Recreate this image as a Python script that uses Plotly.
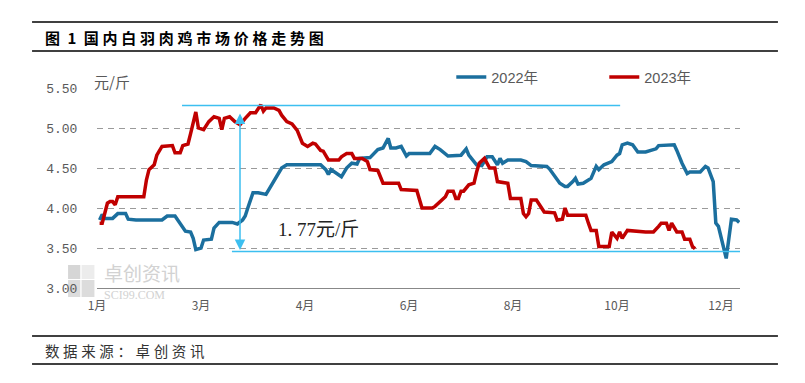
import plotly.graph_objects as go

# ---- data (index = trading-day position along the axis) ----
tick_pos = [0, 40, 80, 120, 160, 200, 240]
tick_text = ["1月", "3月", "4月", "6月", "8月", "10月", "12月"]

x_2022 = [1, 2, 3, 6, 8, 11, 12, 15, 25, 27, 30, 32, 34, 36, 37, 38, 40, 41, 44, 45, 47, 52, 54,
          56, 57, 58, 60, 62, 65, 67, 69, 71, 73, 86, 88, 89, 90, 92, 94, 96, 98, 100, 101, 105,
          108, 110, 112, 113, 115, 117, 119, 120, 128, 130, 132, 135, 138, 140, 142, 143, 146,
          148, 150, 152, 154, 155, 156, 158, 163, 165, 167, 173, 174, 177, 178, 180, 181, 183,
          184, 185, 187, 189, 190, 192, 193, 195, 198, 200, 201, 202, 204, 206, 208, 211, 215,
          216, 221, 222, 223, 225, 227, 228, 232, 234, 235, 237, 238, 239, 242, 243, 244, 246, 247]
y_2022 = [3.85, 3.92, 3.87, 3.87, 3.93, 3.93, 3.86, 3.85, 3.85, 3.90, 3.90, 3.81, 3.71, 3.70, 3.62,
          3.48, 3.50, 3.60, 3.61, 3.75, 3.82, 3.82, 3.80, 3.85, 3.90, 4.00, 4.19, 4.19, 4.17, 4.28,
          4.38, 4.50, 4.54, 4.54, 4.48, 4.42, 4.48, 4.44, 4.39, 4.50, 4.56, 4.55, 4.62, 4.63, 4.73,
          4.75, 4.87, 4.75, 4.75, 4.77, 4.65, 4.68, 4.68, 4.77, 4.73, 4.65, 4.65, 4.66, 4.74, 4.66,
          4.54, 4.53, 4.64, 4.64, 4.54, 4.62, 4.56, 4.60, 4.60, 4.58, 4.53, 4.52, 4.49, 4.35, 4.31,
          4.27, 4.27, 4.33, 4.37, 4.30, 4.31, 4.35, 4.37, 4.52, 4.48, 4.54, 4.58, 4.66, 4.68, 4.79,
          4.81, 4.79, 4.70, 4.70, 4.74, 4.78, 4.78, 4.79, 4.72, 4.56, 4.43, 4.45, 4.45, 4.52, 4.50,
          4.33, 3.81, 3.77, 3.37, 3.58, 3.86, 3.85, 3.82]

x_2023 = [1, 2, 4, 5, 6, 7, 8, 18, 19, 20, 22, 23, 25, 29, 30, 32, 33, 35, 36, 37, 38, 39, 41, 43,
          45, 47, 48, 49, 51, 53, 55, 57, 59, 61, 63, 64, 65, 68, 70, 71, 73, 75, 77, 79, 81, 83,
          84, 86, 87, 89, 93, 94, 96, 98, 99, 102, 104, 105, 108, 110, 116, 117, 123, 125, 129,
          130, 132, 134, 135, 137, 138, 139, 140, 141, 143, 145, 146, 147, 149, 150, 151, 153,
          154, 158, 159, 163, 164, 165, 166, 167, 169, 171, 172, 176, 177, 179, 180, 181, 188,
          189, 190, 192, 193, 197, 198, 200, 201, 202, 204, 211, 214, 216, 217, 219, 220, 221,
          223, 225, 226, 228, 229, 230]
y_2023 = [3.81, 3.81, 4.06, 4.08, 4.08, 4.04, 4.14, 4.14, 4.35, 4.48, 4.54, 4.66, 4.77, 4.78, 4.69,
          4.69, 4.78, 4.80, 4.93, 5.08, 5.20, 5.00, 4.98, 5.08, 5.14, 5.12, 4.98, 5.12, 5.14, 5.08,
          5.04, 5.12, 5.19, 5.19, 5.29, 5.21, 5.25, 5.25, 5.22, 5.16, 5.08, 5.05, 4.97, 4.81, 4.77,
          4.81, 4.80, 4.72, 4.71, 4.60, 4.60, 4.64, 4.68, 4.68, 4.62, 4.62, 4.58, 4.48, 4.47, 4.31,
          4.31, 4.23, 4.22, 4.00, 4.00, 4.02, 4.08, 4.14, 4.21, 4.21, 4.12, 4.12, 4.21, 4.21, 4.29,
          4.31, 4.45, 4.56, 4.62, 4.56, 4.50, 4.50, 4.33, 4.31, 4.12, 4.12, 3.93, 3.89, 3.93, 4.10,
          4.10, 4.00, 3.95, 3.94, 3.85, 3.86, 4.00, 3.91, 3.91, 3.81, 3.72, 3.72, 3.52, 3.52, 3.70,
          3.62, 3.70, 3.62, 3.72, 3.70, 3.70, 3.77, 3.81, 3.81, 3.72, 3.81, 3.70, 3.70, 3.61, 3.61,
          3.52, 3.49]

# annotation values
high_level = 5.28
low_level = 3.455
diff_label = "1. 77元/斤"

BLUE = "#1b6f9e"
RED = "#c00000"
CYAN = "#3cbff0"
GRAY = "#595959"

fig = go.Figure()
fig.add_trace(go.Scatter(x=x_2022, y=y_2022, mode="lines", name="2022年",
                         line=dict(color=BLUE, width=3.5)))
fig.add_trace(go.Scatter(x=x_2023, y=y_2023, mode="lines", name="2023年",
                         line=dict(color=RED, width=3.5)))

sp = "\u2005"
title_txt = "图\u2002" + "1\u2002" + sp.join("国内白羽肉鸡市场价格走势图")
footer_txt = sp.join("数据来源：卓创资讯")

shapes = [
    # title / footer rules
    dict(type="line", xref="paper", yref="paper", x0=-0.101, x1=1.059, y0=1.33, y1=1.33,
         line=dict(color="#000", width=1.5)),
    dict(type="line", xref="paper", yref="paper", x0=-0.101, x1=1.059, y0=1.185, y1=1.185,
         line=dict(color="#000", width=1.5)),
    dict(type="line", xref="paper", yref="paper", x0=-0.101, x1=1.059, y0=-0.24, y1=-0.24,
         line=dict(color="#000", width=1.5)),
    dict(type="line", xref="paper", yref="paper", x0=-0.101, x1=1.059, y0=-0.38, y1=-0.38,
         line=dict(color="#000", width=1.5)),
    # cyan reference lines
    dict(type="line", xref="x", yref="y", x0=32.7, x1=201.2, y0=high_level, y1=high_level,
         line=dict(color=CYAN, width=1.5)),
    dict(type="line", xref="x", yref="y", x0=51.9, x1=251.5, y0=low_level, y1=low_level,
         line=dict(color=CYAN, width=1.5)),
    # watermark logo squares
    dict(type="rect", xref="paper", yref="paper", x0=-0.045, x1=-0.026, y0=0.045, y1=0.115,
         fillcolor="#d6d6d6", line=dict(width=0), layer="below"),
    dict(type="rect", xref="paper", yref="paper", x0=-0.024, x1=-0.004, y0=0.045, y1=0.115,
         fillcolor="#ececec", line=dict(width=0), layer="below"),
    dict(type="rect", xref="paper", yref="paper", x0=-0.045, x1=-0.026, y0=-0.045, y1=0.04,
         fillcolor="#dcdcdc", line=dict(width=0), layer="below"),
    dict(type="rect", xref="paper", yref="paper", x0=-0.024, x1=-0.004, y0=-0.045, y1=0.04,
         fillcolor="#dcdcdc", line=dict(width=0), layer="below"),
]

annotations = [
    dict(text="<b>" + title_txt + "</b>", xref="paper", yref="paper", x=-0.084, y=1.2525,
         xanchor="left", yanchor="middle", showarrow=False,
         font=dict(family="Noto Sans CJK SC", size=15, color="#000")),
    dict(text=footer_txt, xref="paper", yref="paper", x=-0.084, y=-0.31,
         xanchor="left", yanchor="middle", showarrow=False,
         font=dict(family="Noto Sans CJK SC", size=14.5, color="#333")),
    dict(text="元/斤", xref="paper", yref="paper", x=-0.008, y=1.035,
         xanchor="left", yanchor="middle", showarrow=False,
         font=dict(family="Noto Sans CJK SC", size=15, color=GRAY)),
    dict(text=diff_label, xref="x", yref="y", x=69.0, y=3.7375,
         xanchor="left", yanchor="middle", showarrow=False,
         font=dict(family="Liberation Serif, Noto Sans CJK SC", size=19, color="#222")),
    # double-headed arrow
    dict(text="", xref="x", yref="y", axref="x", ayref="y", x=55, y=3.475, ax=55, ay=5.2,
         showarrow=True, arrowhead=2, arrowside="end+start", arrowwidth=1.5,
         arrowsize=1.4, arrowcolor=CYAN, startarrowhead=2, startarrowsize=1.4),
    # watermark text
    dict(text="卓创资讯", xref="paper", yref="paper", x=0.007, y=0.08, xanchor="left",
         yanchor="middle", showarrow=False,
         font=dict(family="Noto Sans CJK SC", size=19, color="#d2d2d2")),
    dict(text="SCI99.COM", xref="paper", yref="paper", x=0.007, y=-0.035, xanchor="left",
         yanchor="middle", showarrow=False,
         font=dict(family="Liberation Serif", size=12, color="#d2d2d2")),
]

fig.update_layout(
    width=805, height=383,
    margin=dict(l=89, r=73, t=80, b=103),
    paper_bgcolor="white", plot_bgcolor="white",
    showlegend=True,
    legend=dict(orientation="h", x=0.551, y=1.055, xanchor="left", yanchor="middle",
                font=dict(family="Liberation Sans, Noto Sans CJK SC", size=14.5, color=GRAY),
                entrywidth=108, entrywidthmode="pixels", itemwidth=30,
                bgcolor="rgba(0,0,0,0)"),
    shapes=shapes,
    annotations=annotations,
    xaxis=dict(range=[0, 247.3], tickmode="array", tickvals=tick_pos, ticktext=tick_text,
               showgrid=False, zeroline=False, showline=True, linecolor="#888", linewidth=1,
               ticks="outside", ticklen=7, tickcolor="rgba(0,0,0,0)",
               tickfont=dict(family="Noto Sans CJK SC", size=12, color=GRAY)),
    yaxis=dict(range=[3.0, 5.5], tickmode="array", tickvals=[3.0, 3.5, 4.0, 4.5, 5.0, 5.5],
               tickformat=".2f", showgrid=True, gridcolor="#9a9a9a", griddash="6px,5px",
               gridwidth=1, zeroline=False, showline=False,
               ticks="outside", ticklen=16, tickcolor="rgba(0,0,0,0)",
               tickfont=dict(family="Liberation Mono", size=13, color=GRAY)),
)

fig.write_html("out.html")
